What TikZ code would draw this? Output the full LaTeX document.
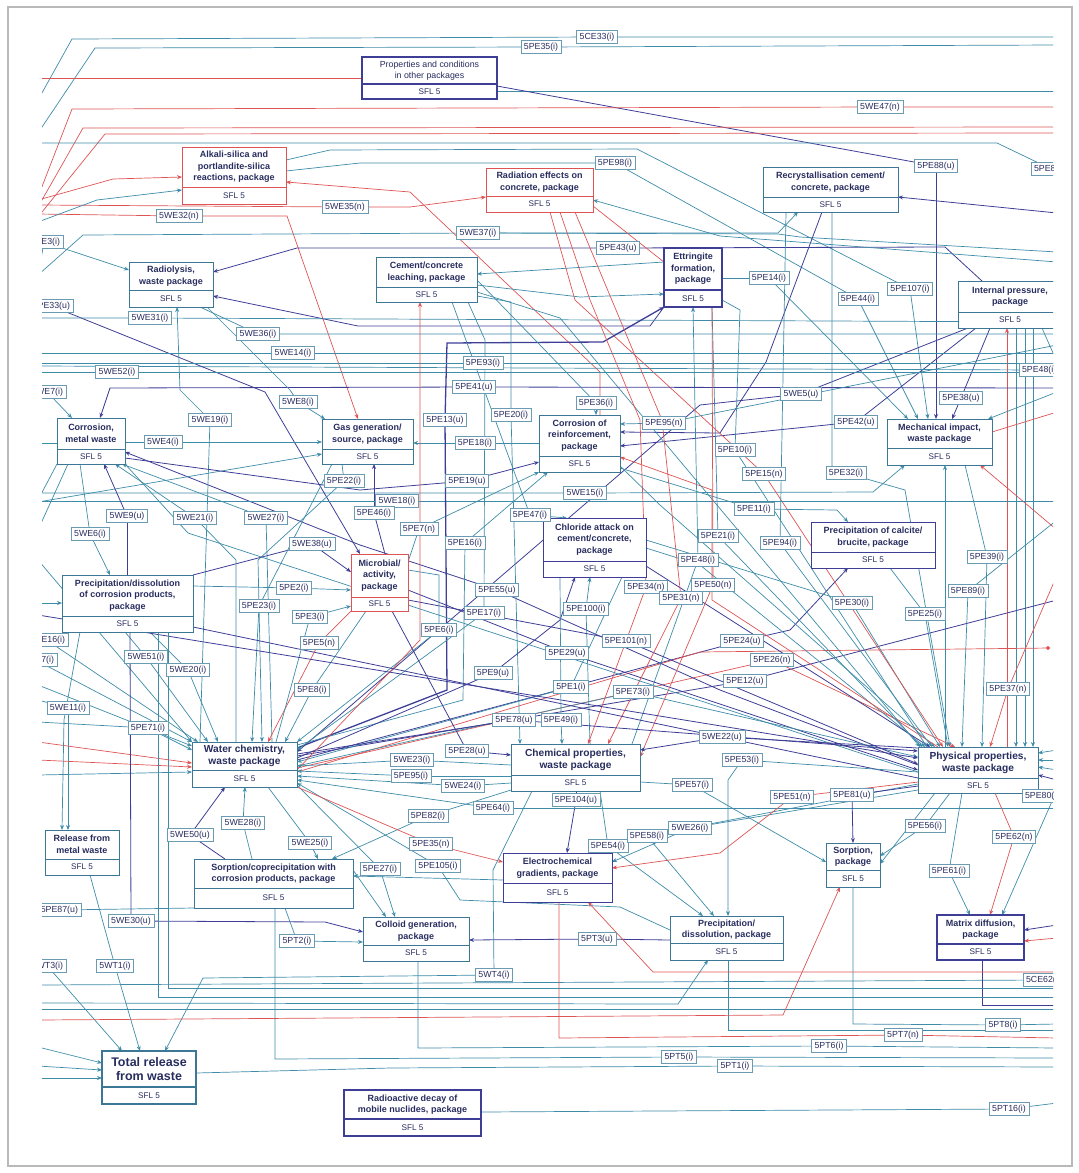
\documentclass[tikz,border=0pt]{standalone}
\usepackage{fontspec}
\setmainfont{Liberation Sans}
\usetikzlibrary{arrows.meta}
\definecolor{ct}{RGB}{62,140,168}
\definecolor{cn}{RGB}{62,62,150}
\definecolor{cr}{RGB}{222,84,84}
\definecolor{cbx}{RGB}{60,120,150}
\definecolor{clb}{RGB}{105,155,178}
\definecolor{ctx}{RGB}{40,45,95}
\pgfdeclarelayer{bg}
\pgfsetlayers{bg,main}
\tikzset{
  tl/.style={draw=ct,line width=0.7pt},
  nv/.style={draw=cn,line width=0.8pt},
  rd/.style={draw=cr,line width=0.7pt},
  ar/.style={-{Stealth[length=5pt,width=4pt]}},
  lab/.style={draw=clb,fill=white,line width=0.6pt,text=ctx,
    font=\fontsize{8.8}{10}\selectfont,inner xsep=3pt,inner ysep=1.5pt,
    minimum height=13pt,outer sep=0pt},
  pbox/.style={fill=white,inner sep=0pt,outer sep=0pt,line width=0.9pt},
  ptitle/.style={text=ctx,font=\fontsize{9}{11.5}\selectfont\bfseries,align=center,inner sep=0pt},
  psfl/.style={text=ctx,font=\fontsize{8.2}{10}\selectfont,inner sep=0pt},
  % larger or lighter titles of some boxes
  proptitle/.style={font=\fontsize{8.8}{11}\selectfont},
  wchtitle/.style={font=\fontsize{10.2}{12}\selectfont\bfseries},
  chemtitle/.style={font=\fontsize{10.2}{12}\selectfont\bfseries},
  phystitle/.style={font=\fontsize{10.2}{12}\selectfont\bfseries},
  tottitle/.style={font=\fontsize{12.5}{13.5}\selectfont\bfseries},
}
% process box: name, x1, y1, x2, y2, divider y, border style, title
\newcommand\proc[8]{%
  \node[pbox,#7,minimum width={(#4-#2)*1pt},minimum height={(#5-#3)*1pt},anchor=north west] (#1) at (#2,#3) {};
  \draw[#7] (#2,#6) -- (#4,#6);
  \node[ptitle,#1title/.try] (#1-t) at ({(#2+#4)/2},{(#3+#6)/2}) {#8};
  \node[psfl] (#1-s) at ({(#2+#4)/2},{(#6+#5)/2}) {SFL 5};
}
\begin{document}
\begin{tikzpicture}[x=1pt,y=-1pt]
\useasboundingbox (0,0) rectangle (1079,1173);
\draw[gray!55,line width=1.2pt] (8,7) rectangle (1072,1166);

\begin{scope}
\clip (42,25) rectangle (1053,1150);
% ---------- process boxes ----------
\proc{prop}{362}{57}{497}{99}{84}{draw=cn,line width=2pt}{Properties and conditions\\in other packages}
\proc{alk}{182}{147}{286}{204}{187}{draw=cr}{Alkali-silica and\\portlandite-silica\\reactions, package}
\proc{rad}{486}{168}{593}{212}{196}{draw=cr}{Radiation effects on\\concrete, package}
\proc{recr}{763}{167}{898}{212}{197}{draw=cbx}{Recrystallisation cement/\\concrete, package}
\proc{rly}{129}{262}{213}{307}{290}{draw=cbx}{Radiolysis,\\waste package}
\proc{leach}{376}{257}{477}{302}{287}{draw=cbx}{Cement/concrete\\leaching, package}
\proc{ett}{664}{248}{722}{307}{290}{draw=cn,line width=1.3pt}{Ettringite\\formation,\\package}
\proc{ipr}{958}{281}{1062}{328}{312}{draw=cbx}{Internal pressure,\\package}
\proc{corm}{57}{418}{125}{464}{449}{draw=cbx}{Corrosion,\\metal waste}
\proc{gas}{322}{419}{413}{464}{449}{draw=cbx}{Gas generation/\\source, package}
\proc{corr}{539}{415}{620}{472}{456}{draw=cbx}{Corrosion of\\reinforcement,\\package}
\proc{mech}{887}{419}{992}{465}{448}{draw=cbx}{Mechanical impact,\\waste package}
\proc{mic}{351}{554}{408}{611}{597}{draw=cr}{Microbial/\\activity,\\package}
\proc{chl}{543}{518}{646}{577}{561}{draw=cn}{Chloride attack on\\cement/concrete,\\package}
\proc{calc}{811}{522}{935}{568}{552}{draw=cn}{Precipitation of calcite/\\brucite, package}
\proc{pdc}{62}{575}{193}{632}{616}{draw=cbx}{Precipitation/dissolution\\of corrosion products,\\package}
\proc{wch}{192}{742}{297}{787}{770}{draw=cbx}{Water chemistry,\\waste package}
\proc{chem}{511}{744}{640}{791}{775}{draw=cbx}{Chemical properties,\\waste package}
\proc{phys}{918}{747}{1038}{793}{778}{draw=cbx}{Physical properties,\\waste package}
\proc{rel}{45}{830}{119}{875}{859}{draw=cbx}{Release from\\metal waste}
\proc{sorc}{194}{859}{353}{908}{888}{draw=cbx}{Sorption/coprecipitation with\\corrosion products, package}
\proc{elec}{503}{853}{612}{902}{883}{draw=cn}{Electrochemical\\gradients, package}
\proc{sorp}{826}{843}{880}{887}{870}{draw=cbx}{Sorption,\\package}
\proc{coll}{363}{917}{469}{961}{945}{draw=cbx}{Colloid generation,\\package}
\proc{pdis}{670}{916}{783}{960}{943}{draw=cbx}{Precipitation/\\dissolution, package}
\proc{mdif}{937}{915}{1024}{960}{944}{draw=cn,line width=1.8pt}{Matrix diffusion,\\package}
\proc{tot}{102}{1051}{196}{1104}{1087}{draw=cbx,line width=1.3pt}{Total release\\from waste}
\proc{decay}{344}{1090}{481}{1136}{1119}{draw=cn,line width=1.8pt}{Radioactive decay of\\mobile nuclides, package}

% ---------- influence labels ----------
\node[lab] (ce33) at (597,37) {5CE33(i)};
\node[lab] (pe35) at (541,47) {5PE35(i)};
\node[lab] (we47) at (880,107) {5WE47(n)};
\node[lab] (pe88) at (936,166) {5PE88(u)};
\node[lab,anchor=west] (pex) at (1031,169) {5PE86(i)};
\node[lab] (pe98) at (615,163) {5PE98(i)};
\node[lab] (we35) at (345,207) {5WE35(n)};
\node[lab] (we32) at (179,216) {5WE32(n)};
\node[lab] (we37) at (478,233) {5WE37(i)};
\node[lab] (pe43) at (618,248) {5PE43(u)};
\node[lab,anchor=east] (we3) at (63,242) {5WE3(i)};
\node[lab] (pe14) at (769,278) {5PE14(i)};
\node[lab] (pe107) at (910,289) {5PE107(i)};
\node[lab] (pe44) at (858,299) {5PE44(i)};
\node[lab,anchor=east] (pe33) at (73,306) {5PE33(u)};
\node[lab] (we31) at (150,318) {5WE31(i)};
\node[lab] (we36) at (258,334) {5WE36(i)};
\node[lab] (we14) at (293,353) {5WE14(i)};
\node[lab] (we52) at (117,372) {5WE52(i)};
\node[lab,anchor=east] (we7) at (66,392) {5WE7(i)};
\node[lab] (we19) at (210,420) {5WE19(i)};
\node[lab] (we8) at (298,402) {5WE8(i)};
\node[lab] (we4) at (163,442) {5WE4(i)};
\node[lab] (pe22) at (344,481) {5PE22(i)};
\node[lab] (we9) at (127,516) {5WE9(u)};
\node[lab] (we21) at (195,518) {5WE21(i)};
\node[lab] (we27) at (266,518) {5WE27(i)};
\node[lab] (we6) at (90,534) {5WE6(i)};
\node[lab] (we38) at (312,544) {5WE38(u)};
\node[lab] (we18) at (397,501) {5WE18(i)};
\node[lab] (pe46) at (374,513) {5PE46(i)};
\node[lab] (pe7) at (419,529) {5PE7(n)};
\node[lab] (pe93) at (483,363) {5PE93(i)};
\node[lab] (pe41) at (474,387) {5PE41(u)};
\node[lab] (pe13) at (445,420) {5PE13(u)};
\node[lab] (pe20) at (511,415) {5PE20(i)};
\node[lab] (pe36) at (596,403) {5PE36(i)};
\node[lab] (pe95n) at (664,423) {5PE95(n)};
\node[lab] (pe18) at (475,443) {5PE18(i)};
\node[lab] (pe19) at (467,481) {5PE19(u)};
\node[lab] (we15) at (585,493) {5WE15(i)};
\node[lab] (pe47) at (530,515) {5PE47(i)};
\node[lab] (pe16) at (465,543) {5PE16(i)};
\node[lab] (pe21) at (718,536) {5PE21(i)};
\node[lab] (pe48) at (698,560) {5PE48(i)};
\node[lab] (pe10) at (735,450) {5PE10(i)};
\node[lab] (pe15) at (764,474) {5PE15(n)};
\node[lab] (pe11) at (754,509) {5PE11(i)};
\node[lab] (pe94) at (780,543) {5PE94(i)};
\node[lab] (we5) at (801,394) {5WE5(u)};
\node[lab] (pe42) at (856,422) {5PE42(u)};
\node[lab] (pe38) at (961,398) {5PE38(u)};
\node[lab,anchor=west] (pecutA) at (1019,370) {5PE48(i)};
\node[lab] (pe32) at (846,473) {5PE32(i)};
\node[lab] (pe39) at (987,557) {5PE39(i)};
\node[lab] (pe89) at (968,591) {5PE89(i)};
\node[lab] (pe25) at (925,614) {5PE25(i)};
\node[lab] (pe30) at (852,603) {5PE30(i)};
\node[lab] (pe24) at (742,641) {5PE24(u)};
\node[lab] (pe26) at (772,660) {5PE26(n)};
\node[lab] (pe12) at (745,681) {5PE12(u)};
\node[lab] (pe37) at (1008,689) {5PE37(n)};
\node[lab] (we22) at (722,737) {5WE22(u)};
\node[lab] (pe53) at (742,760) {5PE53(i)};
\node[lab] (pe51) at (792,797) {5PE51(n)};
\node[lab] (pe81) at (852,795) {5PE81(u)};
\node[lab,anchor=west] (pe86c) at (1022,796) {5PE80(i)};
\node[lab] (pe56) at (925,826) {5PE56(i)};
\node[lab] (pe62) at (1014,837) {5PE62(n)};
\node[lab] (pe61) at (949,871) {5PE61(i)};
\node[lab,anchor=west] (ce62c) at (1023,980) {5CE62(i)};
\node[lab] (pt8) at (1003,1025) {5PT8(i)};
\node[lab] (pt7) at (903,1035) {5PT7(n)};
\node[lab] (pt6) at (829,1046) {5PT6(i)};
\node[lab] (pt1) at (735,1066) {5PT1(i)};
\node[lab] (pt5) at (679,1057) {5PT5(i)};
\node[lab] (pt16) at (1009,1109) {5PT16(i)};
\node[lab] (pt3) at (597,939) {5PT3(u)};
\node[lab] (wt4) at (494,975) {5WT4(i)};
\node[lab] (pt2) at (297,941) {5PT2(i)};
\node[lab] (we30) at (131,921) {5WE30(u)};
\node[lab,anchor=east] (pe87) at (81,910) {5PE87(u)};
\node[lab] (wt1) at (115,966) {5WT1(i)};
\node[lab,anchor=east] (wt3) at (66,966) {5WT3(i)};
\node[lab] (pe27) at (380,869) {5PE27(i)};
\node[lab] (pe105) at (438,866) {5PE105(i)};
\node[lab] (pe35n) at (431,844) {5PE35(n)};
\node[lab] (pe54) at (608,846) {5PE54(i)};
\node[lab] (pe58) at (647,836) {5PE58(i)};
\node[lab] (we26) at (690,828) {5WE26(i)};
\node[lab] (pe104) at (576,800) {5PE104(u)};
\node[lab] (pe64) at (493,808) {5PE64(i)};
\node[lab] (pe82) at (428,816) {5PE82(i)};
\node[lab] (we24) at (463,786) {5WE24(i)};
\node[lab] (pe95i) at (411,776) {5PE95(i)};
\node[lab] (we23) at (412,760) {5WE23(i)};
\node[lab] (pe28) at (467,751) {5PE28(u)};
\node[lab] (pe78) at (514,720) {5PE78(u)};
\node[lab] (pe49) at (561,720) {5PE49(i)};
\node[lab] (pe1) at (571,687) {5PE1(i)};
\node[lab] (pe73) at (633,692) {5PE73(i)};
\node[lab] (pe9) at (493,673) {5PE9(u)};
\node[lab] (pe29) at (567,653) {5PE29(u)};
\node[lab] (pe101) at (626,641) {5PE101(n)};
\node[lab] (pe100) at (586,609) {5PE100(i)};
\node[lab] (pe34) at (646,587) {5PE34(n)};
\node[lab] (pe31) at (681,598) {5PE31(n)};
\node[lab] (pe50) at (713,585) {5PE50(n)};
\node[lab] (pe55) at (497,590) {5PE55(u)};
\node[lab] (pe17) at (484,613) {5PE17(i)};
\node[lab] (pe6) at (439,630) {5PE6(i)};
\node[lab] (pe2) at (294,588) {5PE2(i)};
\node[lab] (pe23) at (259,606) {5PE23(i)};
\node[lab] (pe3) at (310,617) {5PE3(i)};
\node[lab] (pe5) at (319,643) {5PE5(n)};
\node[lab] (pe8) at (312,690) {5PE8(i)};
\node[lab] (we51) at (146,657) {5WE51(i)};
\node[lab] (we20) at (188,670) {5WE20(i)};
\node[lab,anchor=east] (we16) at (68,640) {5WE16(i)};
\node[lab,anchor=east] (we17) at (57,660) {5WE17(i)};
\node[lab] (we11) at (68,708) {5WE11(i)};
\node[lab] (pe71) at (148,728) {5PE71(i)};
\node[lab] (we50) at (190,835) {5WE50(u)};
\node[lab] (we28) at (243,823) {5WE28(i)};
\node[lab] (we25) at (310,843) {5WE25(i)};
\node[lab] (pe57) at (692,785) {5PE57(i)};
\end{scope}

% ---------- loose ends at the cut edges ----------
\foreach \y in {78,100,133,143,197,200,205,207,214,217,222,275,300,318,353,363,366,372,386,443,493,500,501,502,530,560,603,615,685,700,722,742,760,775,985,1003,1009,1020,1047,1066,1078}
  {\coordinate (l\y) at (38,\y);}
\foreach \y in {37,45,91,107,127,133,213,252,262,322,334,345,353,362,363,372,388,392,412,501,520,530,575,600,750,760,770,780,790,808,925,938,972,988,997,1005,1009,1024,1030,1038,1048,1058,1067,1103}
  {\coordinate (r\y) at (1057,\y);}
\coordinate (rdot) at (1050,648);

% ---------- influences ----------
\begin{pgfonlayer}{bg}
\begin{scope}
\clip (42,25) rectangle (1053,1150);
% upper band
\draw[tl] (l100) -- (72,39) -- (ce33) -- (r37);
\draw[tl] (l133) -- (95,48) -- (pe35) -- (r45);
\draw[rd] (l78) -- (prop);
\draw[tl] (prop.east |- 0,91) -- (r91);
\draw[nv] (prop.east |- 0,86) -- (pe88);
\draw[nv,ar] (pe88) -- (pe88 |- mech.north);
\draw[rd] (l197) -- (72,109) -- (we47) -- (r107);
\draw[rd] (l207) -- (83,128) -- (r127);
\draw[rd] (l217) -- (105,134) -- (r133);
\draw[tl] (l143) -- (997,143) -- (pex);
\draw[tl] (alk.east |- 0,160) -- (330,150) -- (637,149) -- (pe107);
\draw[tl,ar] (pe107) -- (mech.north -| 928,0);
\draw[tl] (alk.east |- 0,171) -- (360,163) -- (pe98);
\draw[tl] (pe98) -- (pe44);
\draw[tl,ar] (pe44) -- (mech.north -| 918,0);
\draw[rd,ar] (corr.north -| 600,0) -- (600,372) -- (410,192) -- (alk.east |- 0,182);
\draw[rd,ar] (l205) -- (we35) -- (410,207) -- (rad.west |- 0,197);
\draw[rd,ar] (l214) -- (we32) -- (287,216) -- (gas.north -| 358,0);
\draw[tl,ar] (l222) -- (97,200) -- (alk.west |- 0,190);
\draw[rd,ar] (l200) -- (113,179) -- (alk.west |- 0,177);
\draw[tl,ar] (l275) -- (83,235) -- (we37) -- (778,233) -- (recr.south -| 798,0);
\draw[tl] (we37) -- (778,234) -- (800,237) -- (r252);
\draw[nv,ar] (ipr.north -| 982,0) -- (945,247) -- (pe43) -- (297,248) -- (rly.east |- 0,272);
\draw[tl] (we3) -- (l275);
\draw[tl,ar] (we3) -- (rly.west |- 0,270);
\draw[nv,ar] (ett.south west) -- (650,326) -- (358,326) -- (rly.east |- 0,296);
\draw[nv,ar] (recr.south -| 822,0) -- (766,362) -- (720,433) -- (corr.east |- 0,432);
\draw[nv,ar] (r213) -- (recr.east |- 0,197);
\draw[tl] (ett.east |- 0,278) -- (pe14);
\draw[tl,ar] (pe14) -- (mech.north -| 908,0);
\draw[tl,ar] (ett.west |- 0,262) -- (leach.east |- 0,274);
\draw[tl,ar] (r262) -- (720,236) -- (rad.east |- 0,200);
\draw[tl,ar] (leach.east |- 0,285) -- (580,297) -- (ett.west |- 0,294);
% internal pressure and mechanical impact
\draw[nv] (ipr.south -| 968,0) -- (we5);
\draw[nv,ar] (we5) -- (700,405) -- (wch.east |- 0,752);
\draw[nv] (ipr.south -| 976,0) -- (pe42);
\draw[nv,ar] (pe42) -- (corr.east |- 0,446);
\draw[nv] (ipr.south -| 990,0) -- (pe38);
\draw[nv,ar] (pe38) -- (mech.north -| 952,0);
\draw[rd,ar] (phys.north -| 1007,0) -- (ipr.south -| 1007,0);
\draw[tl,ar] (ipr.south -| 1016,0) -- (phys.north -| 1016,0);
\draw[tl,ar] (ipr.south -| 1025,0) -- (phys.north -| 1025,0);
\draw[tl,ar] (ipr.south -| 1033,0) -- (phys.north -| 1033,0);
\draw[tl] (ipr.south -| 1042,0) -- (r362);
\draw[tl,ar] (r392) -- (mech.north -| 988,0);
\draw[rd] (mech.east |- 0,432) -- (r412);
\draw[tl] (l366) -- (pecutA);
\draw[tl] (recr.south -| 832,0) -- (832,466) -- (pe32);
\draw[tl,ar] (pe32) -- (905,490) -- (phys.north -| 950,0);
\draw[tl,ar] (l493) -- (we15) -- (873,492) -- (mech.south -| 905,0);
\draw[tl,ar] (phys.north -| 945,0) -- (mech.south -| 945,0);
\draw[tl] (mech.south -| 965,0) -- (pe39);
\draw[tl,ar] (pe39) -- (phys.north -| 982,0);
\draw[rd,ar] (r530) -- (mech.south -| 980,0);
% fan into physical properties
\draw[tl] (r520) -- (pe89);
\draw[tl,ar] (pe89) -- (phys.north -| 962,0);
\draw[nv] (wch.east |- 0,760) -- (pe24);
\draw[nv,ar] (pe24) -- (790,630) -- (calc.south -| 848,0);
\draw[rd,-{Circle[length=4pt]}] (wch.east |- 0,772) -- (700,652) -- (rdot);
\draw[rd] (wch.east |- 0,768) -- (pe26);
\draw[rd,ar] (pe26) -- (phys.north -| 955,0);
\draw[nv] (wch.east |- 0,756) -- (pe12) -- (r600);
\draw[tl] (chl.east |- 0,540) -- (pe30);
\draw[tl,ar] (pe30) -- (phys.north -| 940,0);
\draw[tl] (calc.south -| 890,0) -- (pe25);
\draw[tl,ar] (pe25) -- (phys.north -| 948,0);
\draw[rd] (r575) -- (pe37);
\draw[rd,ar] (pe37) -- (phys.north -| 990,0);
\draw[tl,ar] (chl.east |- 0,548) -- (700,565) -- (phys.north -| 925,0);
\draw[nv,ar] (chl.east |- 0,566) -- (phys.north -| 930,0);
\draw[tl,ar] (corr.east |- 0,466) -- (660,505) -- (phys.north -| 935,0);
\draw[rd,ar] (phys.north -| 938,0) -- (712,600) -- (712,490) -- (corr.east |- 0,457);
\draw[tl,ar] (leach.east |- 0,292) -- (560,318) -- (phys.north -| 920,0);
\draw[nv] (phys.west |- 0,765) -- (720,690) -- (pe55);
\draw[nv,ar] (pe55) -- (360,545) -- (corm.east |- 0,452);
\draw[tl] (ett.south -| 712,0) -- (pe21);
\draw[tl,ar] (pe21) -- (phys.north -| 922,0);
\draw[tl] (chem.north -| 632,0) -- (pe48);
\draw[tl,ar] (pe48) -- (ett.south -| 693,0);
\draw[tl] (ett.east |- 0,300) -- (740,310) -- (pe10);
\draw[tl,ar] (pe10) -- (phys.north -| 927,0);
\draw[rd] (rad.south -| 550,0) -- (575,300) -- (pe15);
\draw[rd,ar] (pe15) -- (phys.north -| 943,0);
\draw[tl] (corr.east |- 0,468) -- (pe11);
\draw[tl,ar] (pe11) -- (837,510) -- (calc.north -| 848,0);
\draw[tl] (recr.south -| 786,0) -- (pe94);
\draw[tl,ar] (pe94) -- (phys.north -| 932,0);
% left column
\draw[nv] (l300) -- (pe33);
\draw[nv,ar] (pe33) -- (265,392) -- (mic.north -| 360,0);
\draw[tl,ar] (we19) -- (180,390) -- (rly.south -| 177,0);
\draw[tl] (wch.north -| 200,0) -- (we19);
\draw[tl] (l318) -- (we31) -- (r322);
\draw[tl] (rly.south -| 200,0) -- (we36) -- (r334);
\draw[tl] (l353) -- (we14) -- (r353);
\draw[tl] (l372) -- (we52) -- (r372);
\draw[tl] (l386) -- (we7);
\draw[tl,ar] (we7) -- (corm.north -| 72,0);
\draw[nv] (r388) -- (pe41);
\draw[nv,ar] (pe41) -- (110,388) -- (corm.north -| 100,0);
\draw[tl] (rly.south -| 207,0) -- (290,390) -- (we8);
\draw[tl,ar] (we8) -- (gas.north -| 325,0);
\draw[tl] (corm.east |- 0,442) -- (we4);
\draw[tl,ar] (we4) -- (gas.west |- 0,442);
\draw[tl,ar] (l502) -- (gas.west |- 0,454);
\draw[tl] (gas.south -| 342,0) -- (pe22);
\draw[tl,ar] (pe22) -- (258,560) -- (wch.north -| 262,0);
\draw[nv] (mic.north -| 385,0) -- (pe46);
\draw[nv,ar] (pe46) -- (gas.south -| 374,0);
\draw[tl] (l501) -- (we18) -- (r501);
\draw[tl] (mic.east |- 0,562) -- (pe7);
\draw[tl,ar] (pe7) -- (corr.south west);
\draw[nv] (corm.east |- 0,458) -- (360,490) -- (pe19);
\draw[nv,ar] (pe19) -- (corr.west |- 0,462);
\draw[tl] (corr.west |- 0,443) -- (pe18);
\draw[tl,ar] (pe18) -- (gas.east |- 0,443);
\draw[nv,line width=1.3pt] (wch.east |- 0,748) -- (447,690) -- (pe13);
\draw[nv,ar,line width=1.3pt] (pe13) -- (447,343) -- (603,342) -- (ett.south west);
\draw[tl] (l363) -- (pe93) -- (r363);
\draw[tl] (leach.east |- 0,296) -- (511,302) -- (pe20);
\draw[tl,ar] (pe20) -- (chem.north -| 520,0);
\draw[tl] (leach.east |- 0,280) -- (540,345) -- (pe36);
\draw[tl,ar] (pe36) -- (corr.north -| 596,0);
\draw[tl] (r345) -- (pe95n);
\draw[tl,ar] (pe95n) -- (corr.east |- 0,424);
\draw[tl] (leach.south -| 452,0) -- (pe47);
\draw[tl,ar] (pe47) -- (chl.north -| 567,0);
\draw[tl] (wch.east |- 0,745) -- (463,700) -- (pe16);
\draw[tl,ar] (pe16) -- (corr.south -| 548,0);
% chloride attack, chemical properties
\draw[tl] (chem.north -| 590,0) -- (pe100);
\draw[tl,ar] (pe100) -- (chl.south -| 590,0);
\draw[nv] (wch.east |- 0,758) -- (pe9);
\draw[nv,ar] (pe9) -- (560,620) -- (chl.south -| 575,0);
\draw[nv] (mic.east |- 0,590) -- (pe29);
\draw[nv,ar] (pe29) -- (phys.west |- 0,770);
\draw[tl] (chl.south -| 622,0) -- (pe1);
\draw[tl,ar] (pe1) -- (wch.east |- 0,762);
\draw[tl] (wch.east |- 0,766) -- (pe73);
\draw[tl,ar] (pe73) -- (phys.west |- 0,757);
\draw[nv] (mic.east |- 0,600) -- (pe101);
\draw[nv,ar] (pe101) -- (phys.west |- 0,764);
\draw[rd] (rad.south -| 560,0) -- (590,300) -- (640,420) -- (pe34);
\draw[rd,ar] (pe34) -- (chem.north -| 588,0);
\draw[rd] (rad.south -| 575,0) -- (662,420) -- (pe31);
\draw[rd,ar] (pe31) -- (chem.north -| 608,0);
\draw[rd] (rad.east |- 0,206) -- (712,300) -- (pe50);
\draw[rd,ar] (pe50) -- (chem.east |- 0,757);
\draw[tl] (leach.south -| 468,0) -- (485,340) -- (pe17);
\draw[tl,ar] (pe17) -- (wch.east |- 0,750);
\draw[tl] (mic.east |- 0,570) -- (439,575) -- (pe6);
\draw[tl,ar] (pe6) -- (wch.north east);
\draw[rd,ar] (wch.east |- 0,770) -- (420,640) -- (leach.south -| 420,0);
% microbial activity and water chemistry
\draw[nv] (pdc.north east) -- (we38);
\draw[nv,ar] (we38) -- (mic.west |- 0,572);
\draw[tl] (pdc.east |- 0,586) -- (pe2);
\draw[tl,ar] (pe2) -- (mic.west |- 0,590);
\draw[tl] (gas.south -| 332,0) -- (pe23);
\draw[tl,ar] (pe23) -- (wch.north -| 252,0);
\draw[tl] (wch.north -| 272,0) -- (we27);
\draw[tl,ar] (we27) -- (corm.south -| 122,0);
\draw[tl] (wch.north -| 236,0) -- (236,560) -- (we21);
\draw[tl,ar] (we21) -- (corm.south -| 115,0);
\draw[tl] (corm.south -| 80,0) -- (we6);
\draw[tl,ar] (we6) -- (pdc.north -| 110,0);
\draw[nv] (pdc.north -| 127,0) -- (we9);
\draw[nv,ar] (we9) -- (corm.south -| 104,0);
\draw[tl,ar] (l603) -- (pdc.west |- 0,603);
\draw[nv] (pdc.east |- 0,627) -- (phys.west |- 0,778);
\draw[tl] (mic.south -| 366,0) -- (pe8);
\draw[tl,ar] (pe8) -- (wch.north -| 285,0);
\draw[rd] (mic.south west) -- (pe5);
\draw[rd,ar] (pe5) -- (wch.north -| 268,0);
\draw[tl] (wch.north -| 276,0) -- (pe3);
\draw[tl,ar] (pe3) -- (mic.west |- 0,606);
\draw[tl] (pdc.south -| 125,0) -- (we51);
\draw[tl,ar] (we51) -- (wch.north -| 208,0);
\draw[tl] (pdc.south -| 150,0) -- (we20);
\draw[tl,ar] (we20) -- (wch.north -| 218,0);
\draw[tl] (l700) -- (we11);
\draw[tl,ar] (we11) -- (rel.north -| 68,0);
\draw[tl] (l722) -- (pe71);
\draw[tl,ar] (pe71) -- (wch.west |- 0,750);
\draw[rd,ar] (l742) -- (wch.west |- 0,763);
\draw[rd,ar] (l760) -- (wch.west |- 0,767);
\draw[tl,ar] (l685) -- (wch.west |- 0,746);
\draw[tl,ar] (l775) -- (wch.west |- 0,772);
\draw[tl,ar] (we16) -- (wch.north -| 198,0);
\draw[tl,ar] (we17) -- (wch.north west);
\draw[tl] (corm.south west) -- (l500);
\draw[tl] (corm.south -| 68,0) -- (l530);
\draw[tl] (l443) -- (corm.west |- 0,443);
\draw[tl] (corm.south east) -- (188,533) -- (phys.west |- 0,772);
\draw[nv,ar] (l615) -- (phys.west |- 0,758);
\draw[tl,ar] (l560) -- (wch.north west);
% lower band
\draw[nv] (sorc.north -| 225,0) -- (we50);
\draw[nv,ar] (we50) -- (wch.south -| 225,0);
\draw[tl] (sorc.north -| 252,0) -- (we28);
\draw[tl,ar] (we28) -- (wch.south -| 245,0);
\draw[tl] (wch.south -| 268,0) -- (we25);
\draw[tl,ar] (we25) -- (sorc.north -| 318,0);
\draw[tl] (chem.west |- 0,790) -- (pe82);
\draw[tl,ar] (pe82) -- (sorc.north -| 332,0);
\draw[tl] (pdis.west |- 0,930) -- (620,907) -- (460,900) -- (pe105);
\draw[tl,ar] (pe105) -- (wch.east |- 0,783);
\draw[tl] (wch.east |- 0,785) -- (pe27);
\draw[tl,ar] (pe27) -- (coll.north -| 395,0);
\draw[tl,ar] (sorc.east |- 0,870) -- (coll.north -| 386,0);
\draw[tl,ar] (elec.west |- 0,880) -- (sorc.east |- 0,876);
\draw[rd] (wch.south east) -- (pe35n);
\draw[rd,ar] (pe35n) -- (elec.west |- 0,862);
\draw[tl] (chem.south -| 600,0) -- (pe54);
\draw[tl,ar] (pe54) -- (pdis.north -| 703,0);
\draw[tl] (phys.west |- 0,784) -- (pe58);
\draw[tl,ar] (pe58) -- (pdis.north -| 714,0);
\draw[tl] (phys.west |- 0,790) -- (we26);
\draw[tl,ar] (we26) -- (elec.east |- 0,862);
\draw[nv] (chem.south -| 576,0) -- (pe104);
\draw[nv,ar] (pe104) -- (elec.north -| 567,0);
\draw[tl] (r808) -- (pe64);
\draw[tl,ar] (pe64) -- (wch.east |- 0,780);
\draw[tl] (chem.west |- 0,783) -- (we24);
\draw[tl,ar] (we24) -- (wch.east |- 0,776);
\draw[tl] (chem.west |- 0,776) -- (pe95i);
\draw[tl,ar] (pe95i) -- (wch.east |- 0,771);
\draw[tl] (chem.west |- 0,765) -- (we23);
\draw[tl,ar] (we23) -- (wch.east |- 0,766);
\draw[nv] (mic.south -| 392,0) -- (pe28);
\draw[nv,ar] (pe28) -- (chem.west |- 0,755);
\draw[nv] (wch.east |- 0,754) -- (pe78);
\draw[nv,ar] (pe78) -- (phys.west |- 0,751);
\draw[tl] (chl.south -| 560,0) -- (pe49);
\draw[tl,ar] (pe49) -- (chem.north -| 562,0);
\draw[rd] (phys.west |- 0,782) -- (pe51);
\draw[rd,ar] (pe51) -- (720,853) -- (elec.east |- 0,868);
\draw[tl] (phys.west |- 0,772) -- (pe53);
\draw[tl,ar] (pe53) -- (728,780) -- (pdis.north -| 728,0);
\draw[nv] (phys.west |- 0,748) -- (we22);
\draw[nv,ar] (we22) -- (chem.east |- 0,750);
\draw[tl] (chem.east |- 0,782) -- (pe57);
\draw[tl,ar] (pe57) -- (sorp.west |- 0,862);
\draw[nv] (phys.west |- 0,786) -- (pe81);
\draw[nv,ar] (pe81) -- (sorp.north -| 853,0);
\draw[tl,ar] (phys.south -| 935,0) -- (sorp.east |- 0,864);
\draw[tl] (phys.south -| 950,0) -- (pe56);
\draw[tl,ar] (pe56) -- (sorp.east |- 0,856);
\draw[tl] (phys.south -| 962,0) -- (pe61);
\draw[tl,ar] (pe61) -- (mdif.north -| 970,0);
\draw[rd] (phys.south -| 995,0) -- (pe62);
\draw[rd,ar] (pe62) -- (mdif.north -| 990,0);
\draw[tl,ar] (r790) -- (mdif.north -| 1002,0);
\draw[nv,ar] (r925) -- (mdif.east |- 0,930);
\draw[rd,ar] (r938) -- (mdif.east |- 0,941);
\draw[tl] (phys.south east) -- (pe86c);
\draw[tl,ar] (r750) -- (phys.east |- 0,753);
\draw[tl,ar] (r760) -- (phys.east |- 0,760);
\draw[tl,ar] (r770) -- (phys.east |- 0,767);
\draw[nv,ar] (r780) -- (phys.east |- 0,775);
\draw[tl,ar] (pdc.south -| 80,0) -- (64,720) -- (rel.north -| 62,0);
\draw[tl] (rel.south -| 90,0) -- (wt1);
\draw[tl,ar] (wt1) -- (tot.north -| 140,0);
\draw[tl,ar] (wt3) -- (tot.north -| 122,0);
\draw[nv] (pdc.south -| 130,0) -- (we30);
\draw[nv,ar] (we30) -- (325,922) -- (coll.west |- 0,932);
\draw[tl] (pe87) -- (sorc.south west);
\draw[tl] (sorc.south -| 285,0) -- (pt2);
\draw[tl,ar] (pt2) -- (coll.west |- 0,942);
\draw[nv] (pdis.west |- 0,940) -- (pt3);
\draw[nv,ar] (pt3) -- (coll.east |- 0,940);
\draw[tl] (chem.south -| 532,0) -- (493,870) -- (wt4);
\draw[tl,ar] (wt4) -- (203,978) -- (tot.north -| 165,0);
\draw[tl] (l985) -- (ce62c);
\draw[tl,ar] (l1047) -- (tot.west |- 0,1063);
\draw[tl,ar] (l1066) -- (tot.west |- 0,1070);
\draw[tl,ar] (l1078) -- (tot.west |- 0,1078);
\draw[tl] (tot.east |- 0,1073) -- (390,1068) -- (pt1) -- (r1067);
\draw[tl] (decay.east |- 0,1112) -- (pt16) -- (r1103);
\draw[nv] (mdif.south -| 982,0) -- (982,1005) -- (r1005);
\draw[tl] (sorp.south -| 853,0) -- (853,1024) -- (pt8) -- (r1024);
\draw[tl] (pdis.south -| 728,0) -- (728,1030) -- (r1030);
\draw[rd] (elec.south -| 559,0) -- (559,1038) -- (pt7) -- (r1038);
\draw[tl] (coll.south -| 418,0) -- (418,1048) -- (pt6) -- (r1048);
\draw[tl] (sorc.south -| 275,0) -- (275,1059) -- (pt5) -- (r1058);
\draw[tl] (pdc.south -| 168,0) -- (168,988) -- (r988);
\draw[tl] (pdc.south -| 158,0) -- (158,997) -- (r997);
\draw[tl] (l1009) -- (r1009);
\draw[rd,ar] (l1020) -- (783,1015) -- (sorp.south -| 840,0);
\draw[tl,ar] (l1003) -- (678,1004) -- (pdis.south -| 708,0);
\draw[rd,ar] (r972) -- (653,972) -- (elec.south -| 588,0);
\end{scope}
\end{pgfonlayer}
\end{tikzpicture}
\end{document}
